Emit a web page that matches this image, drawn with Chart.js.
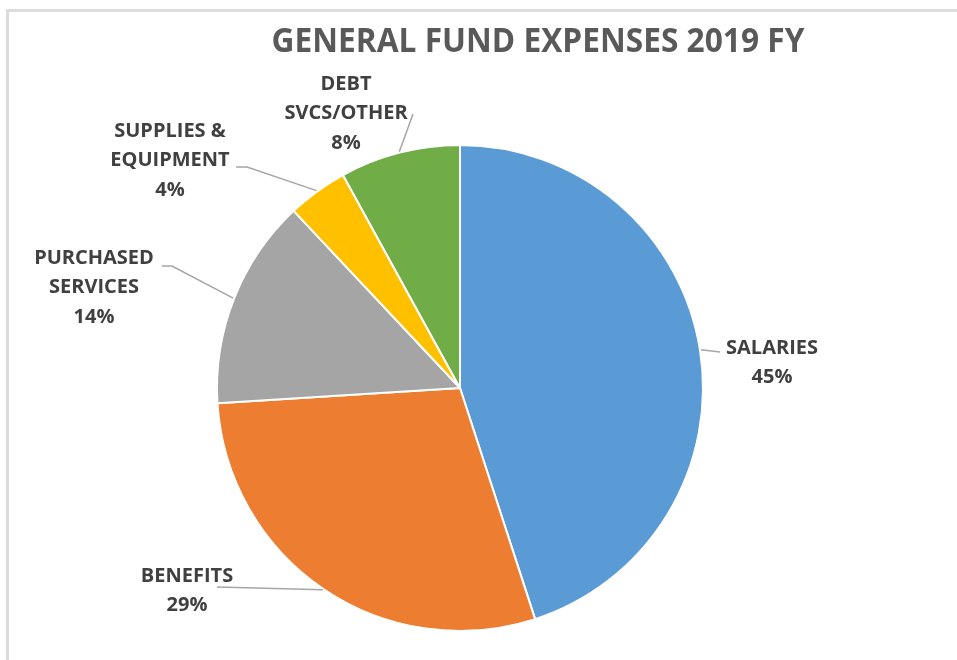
<!DOCTYPE html>
<html>
<head>
<meta charset="utf-8">
<script src="https://cdn.jsdelivr.net/npm/chart.js@4.4.1/dist/chart.umd.min.js"></script>
<style>
  html, body { margin: 0; padding: 0; background: #fff; }
  #wrap { position: relative; width: 957px; height: 660px; overflow: hidden; }
  #frame { position: absolute; left: 6px; top: 9px; right: -10px; bottom: -10px;
           border-top: 3px solid #dcdcdc; border-left: 3px solid #dcdcdc; }
  canvas { position: absolute; left: 0; top: 0; }
</style>
</head>
<body>
<div id="wrap">
  <div id="frame"></div>
  <canvas id="chart" width="957" height="660"></canvas>
</div>
<script>
// Expense categories, clockwise from 12 o'clock
const categories = ['SALARIES', 'BENEFITS', 'PURCHASED SERVICES', 'SUPPLIES & EQUIPMENT', 'DEBT SVCS/OTHER'];
// Category names as they are wrapped in the data labels
const labelLines = [['SALARIES'], ['BENEFITS'], ['PURCHASED', 'SERVICES'], ['SUPPLIES &', 'EQUIPMENT'], ['DEBT', 'SVCS/OTHER']];
// Share of general fund expenses, percent
const shares = [45, 29, 14, 4, 8];
const sliceColors = ['#5B9BD5', '#ED7D31', '#A5A5A5', '#FFC000', '#70AD47'];
const titleText = 'GENERAL FUND EXPENSES 2019 FY';

// Label placement relative to the pie centre: text centre of first line,
// optional elbow of the leader line and the leader's outer end.
const labelPlacement = [
  { tx: 312, ty: -40, pts: [[260, -36]] },
  { tx: -273, ty: 188, pts: [[-243, 199]] },
  { tx: -366, ty: -130, pts: [[-288, -122], [-298, -122]] },
  { tx: -290, ty: -257, pts: [[-213, -221], [-224, -221]] },
  { tx: -114, ty: -304, pts: [[-47, -274]] }
];

const FONT = "'Open Sans', 'DejaVu Sans', sans-serif";

// Draw text condensed to a given width (narrow bold face look)
function fillFitted(ctx, text, cx, cy, width) {
  const w = ctx.measureText(text).width;
  const s = Math.min(1, width / w);
  ctx.save();
  ctx.translate(cx, cy);
  ctx.scale(s, 1);
  ctx.fillText(text, 0, 0);
  ctx.restore();
}

const labelPlugin = {
  id: 'pieLabels',
  afterDatasetsDraw(chart) {
    const ctx = chart.ctx;
    const meta = chart.getDatasetMeta(0);
    const total = shares.reduce((a, b) => a + b, 0);
    ctx.save();
    meta.data.forEach((arc, i) => {
      const p = arc.getProps(['x', 'y', 'startAngle', 'endAngle', 'outerRadius'], true);
      const mid = (p.startAngle + p.endAngle) / 2;
      const place = labelPlacement[i];
      // leader line
      ctx.beginPath();
      ctx.strokeStyle = '#a6a6a6';
      ctx.lineWidth = 1.5;
      ctx.moveTo(p.x + Math.cos(mid) * (p.outerRadius + 1), p.y + Math.sin(mid) * (p.outerRadius + 1));
      place.pts.forEach(pt => ctx.lineTo(p.x + pt[0], p.y + pt[1]));
      ctx.stroke();
      // text
      ctx.fillStyle = '#404040';
      ctx.font = "bold 20px " + FONT;
      ctx.textAlign = 'center';
      ctx.textBaseline = 'middle';
      const lines = labelLines[i].concat([Math.round(shares[i] / total * 100) + '%']);
      lines.forEach((ln, k) => {
        fillFitted(ctx, ln, p.x + place.tx, p.y + place.ty + k * 29.5, 999);
      });
    });
    // title
    ctx.fillStyle = '#595959';
    ctx.font = "bold 34px " + FONT;
    ctx.textAlign = 'center';
    ctx.textBaseline = 'middle';
    fillFitted(ctx, titleText, 538, 42, 533);
    ctx.restore();
  }
};

new Chart(document.getElementById('chart'), {
  type: 'pie',
  data: {
    labels: categories,
    datasets: [{
      data: shares,
      backgroundColor: sliceColors,
      borderColor: '#ffffff',
      borderWidth: 2
    }]
  },
  options: {
    responsive: false,
    animation: false,
    rotation: 0,
    layout: { padding: { top: 144, bottom: 28, left: 216, right: 253 } },
    plugins: {
      legend: { display: false },
      tooltip: { enabled: false },
      title: { display: false }
    }
  },
  plugins: [labelPlugin]
});
</script>
</body>
</html>
